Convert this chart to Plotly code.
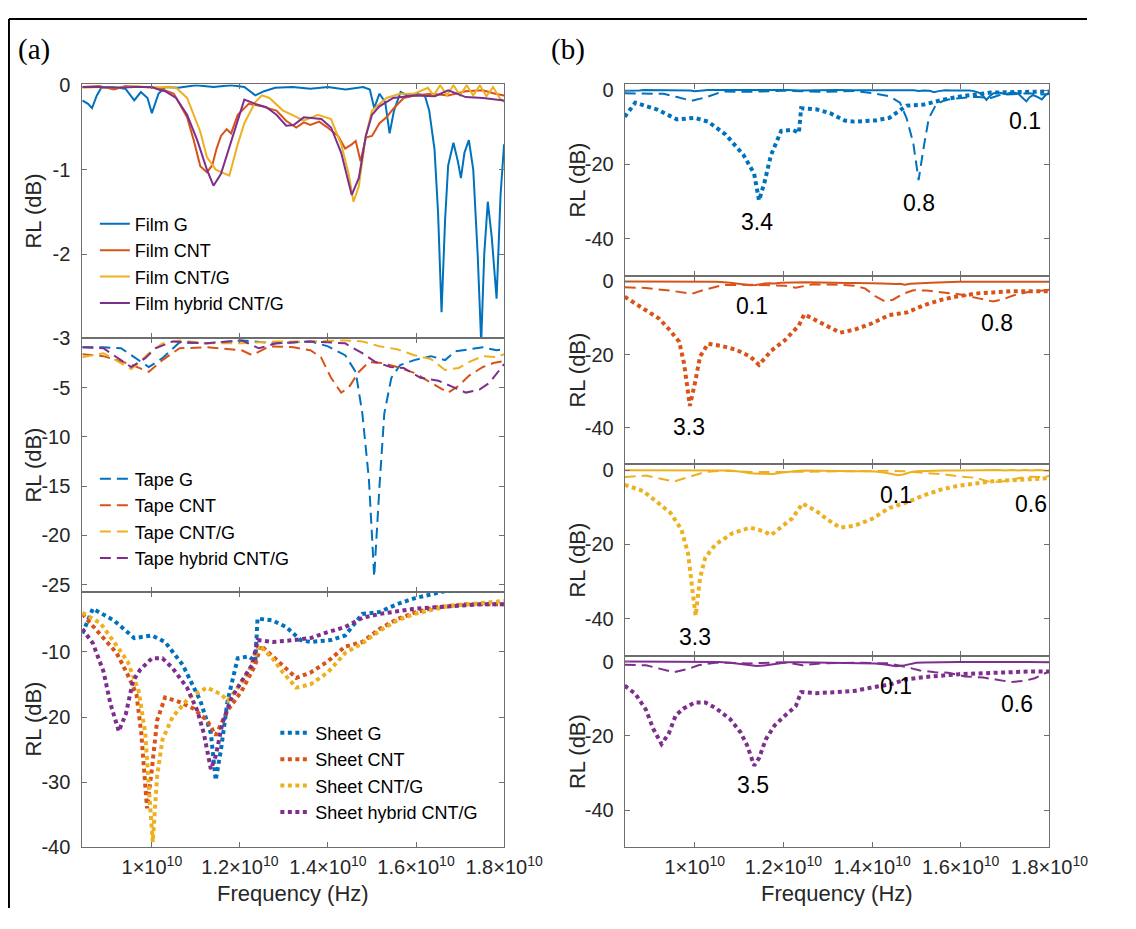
import numpy as np
import plotly.graph_objects as go

# frequency in GHz, return loss in dB
film_g = [(8.42, -0.18), (8.55, -0.22), (8.64, -0.27), (8.75, -0.12), (8.85, -0.03), (9.1, -0.02),
          (9.4, -0.04), (9.6, -0.18), (9.75, -0.08), (9.9, -0.15), (10.0, -0.33), (10.15, -0.1),
          (10.3, -0.02), (10.6, -0.03), (11.0, 0.0), (11.4, -0.02), (11.8, 0.0), (12.1, -0.02),
          (12.35, -0.12), (12.55, -0.07), (12.8, -0.03), (13.2, -0.02), (13.6, -0.04), (14.0, -0.02),
          (14.4, -0.05), (14.8, -0.02), (14.95, -0.05), (15.05, -0.27), (15.17, -0.1), (15.3, -0.2),
          (15.4, -0.57), (15.5, -0.3), (15.65, -0.08), (15.8, -0.12), (16.0, -0.1), (16.2, -0.12),
          (16.3, -0.3), (16.42, -0.76), (16.5, -1.5), (16.58, -2.69), (16.66, -1.6), (16.73, -0.95),
          (16.85, -0.68), (16.95, -0.9), (17.02, -1.1), (17.1, -0.8), (17.2, -0.65), (17.3, -1.0),
          (17.4, -2.0), (17.48, -3.05), (17.55, -2.0), (17.63, -1.38), (17.72, -1.8), (17.83, -2.53),
          (17.92, -1.3), (18.0, -0.7)]
film_cnt = [(8.42, -0.02), (8.8, -0.01), (9.14, -0.05), (9.4, -0.01), (9.8, -0.02), (10.15, -0.03),
            (10.5, -0.1), (10.8, -0.38), (10.95, -0.65), (11.1, -0.96), (11.25, -1.03), (11.37, -0.95),
            (11.47, -0.75), (11.57, -0.6), (11.7, -0.52), (11.8, -0.57), (11.95, -0.35), (12.2, -0.22),
            (12.5, -0.25), (12.83, -0.3), (13.05, -0.42), (13.28, -0.5), (13.45, -0.44), (13.6, -0.47),
            (13.8, -0.43), (13.99, -0.5), (14.23, -0.6), (14.39, -0.75), (14.54, -0.7), (14.63, -0.66),
            (14.74, -0.9), (14.86, -0.62), (15.0, -0.6), (15.17, -0.45), (15.33, -0.38), (15.48, -0.28),
            (15.72, -0.15), (15.96, -0.12), (16.34, -0.1), (16.73, -0.12), (17.13, -0.07), (17.52, -0.06),
            (17.8, -0.1), (18.0, -0.12)]
film_cntg = [(8.42, -0.03), (8.8, -0.02), (9.2, -0.03), (9.6, -0.01), (10.0, -0.03), (10.3, -0.02),
             (10.55, -0.03), (10.8, -0.15), (11.1, -0.55), (11.25, -0.85), (11.45, -1.0), (11.65, -1.05),
             (11.76, -1.07), (11.95, -0.7), (12.1, -0.45), (12.35, -0.2), (12.5, -0.12), (12.67, -0.15),
             (12.98, -0.3), (13.22, -0.36), (13.45, -0.42), (13.77, -0.35), (14.07, -0.4), (14.3, -0.7),
             (14.47, -1.05), (14.58, -1.38), (14.7, -1.2), (14.86, -0.6), (15.0, -0.3), (15.33, -0.15),
             (15.63, -0.1), (15.96, -0.1), (16.27, -0.03), (16.4, -0.12), (16.55, 0.0), (16.7, -0.12),
             (16.85, 0.0), (17.0, -0.12), (17.15, 0.0), (17.3, -0.12), (17.45, 0.0), (17.6, -0.13),
             (17.75, -0.02), (17.9, -0.15), (18.0, -0.2)]
film_hyb = [(8.42, -0.02), (8.8, -0.02), (9.2, -0.03), (9.6, -0.02), (10.0, -0.02), (10.15, -0.05),
            (10.3, -0.07), (10.55, -0.15), (10.8, -0.35), (11.03, -0.65), (11.25, -1.0), (11.4, -1.19),
            (11.57, -1.05), (11.72, -0.8), (11.95, -0.4), (12.1, -0.17), (12.35, -0.22), (12.6, -0.26),
            (12.83, -0.35), (13.05, -0.48), (13.22, -0.47), (13.45, -0.38), (13.85, -0.4), (14.07, -0.5),
            (14.3, -0.8), (14.47, -1.15), (14.54, -1.3), (14.7, -1.1), (14.86, -0.6), (15.0, -0.35),
            (15.17, -0.25), (15.48, -0.15), (15.96, -0.12), (16.43, -0.13), (16.73, -0.06), (17.13, -0.14),
            (17.52, -0.15), (18.0, -0.18)]

tape_g = [(8.42, -0.9), (8.9, -0.9), (9.3, -1.0), (9.6, -1.9), (9.93, -2.9), (10.24, -2.0), (10.63, -0.4),
          (11.25, -0.5), (12.04, -0.2), (12.83, -0.5), (13.6, -0.3), (14.0, -0.8), (14.39, -1.7),
          (14.63, -3.4), (14.78, -7.6), (14.93, -14.3), (15.05, -24.2), (15.17, -15.0), (15.28, -7.6),
          (15.44, -4.0), (15.64, -2.7), (15.96, -2.2), (16.34, -1.8), (16.66, -2.2), (16.9, -1.3),
          (17.52, -0.9), (17.83, -1.2), (18.0, -1.1)]
tape_cnt = [(8.42, -1.6), (8.9, -1.8), (9.5, -2.6), (9.93, -3.4), (10.24, -2.2), (10.63, -1.0),
            (11.25, -0.9), (12.04, -1.2), (12.28, -1.7), (12.67, -0.8), (13.22, -0.9), (13.6, -1.2),
            (13.84, -1.9), (14.07, -4.0), (14.3, -5.5), (14.47, -5.0), (14.7, -3.4), (14.93, -2.4),
            (15.24, -2.5), (15.57, -2.9), (15.96, -3.5), (16.43, -4.7), (16.73, -5.5), (16.97, -4.8),
            (17.2, -3.8), (17.52, -2.9), (17.76, -2.5), (18.0, -2.3)]
tape_cntg = [(8.42, -1.9), (8.9, -1.5), (9.53, -3.1), (9.7, -2.5), (9.93, -1.5), (10.24, -0.5),
             (10.63, -0.2), (11.25, -0.5), (12.04, -0.5), (12.83, -0.3), (13.6, -0.3), (14.39, -0.2),
             (14.78, -0.3), (15.17, -0.8), (15.57, -1.1), (15.96, -1.7), (16.34, -2.1), (16.66, -3.2),
             (16.97, -3.0), (17.2, -2.4), (17.52, -1.8), (17.83, -1.9), (18.0, -1.6)]
tape_hyb = [(8.42, -0.9), (8.9, -1.0), (9.53, -2.9), (9.85, -2.0), (10.08, -1.0), (10.47, -0.3),
            (11.25, -0.5), (12.04, -0.2), (12.43, -1.0), (12.83, -0.5), (13.6, -0.3), (14.39, -0.5),
            (14.78, -1.5), (15.08, -2.4), (15.42, -2.9), (15.72, -3.0), (16.1, -4.0), (16.51, -4.3),
            (16.82, -4.9), (17.13, -5.5), (17.44, -5.2), (17.67, -4.5), (18.0, -2.6)]

sheet_g = [(8.42, -7.2), (8.66, -3.4), (9.14, -5.2), (9.6, -7.9), (10.0, -7.5), (10.3, -8.5), (10.7, -12.0),
           (11.1, -17.5), (11.34, -22.5), (11.45, -29.7), (11.57, -25.0), (11.72, -17.5), (11.95, -11.0),
           (12.2, -10.7), (12.35, -11.5), (12.4, -4.9), (12.74, -5.2), (13.05, -6.2), (13.38, -8.2),
           (13.6, -8.5), (14.07, -8.2), (14.39, -7.5), (14.78, -4.2), (15.17, -3.9), (15.57, -2.7),
           (15.96, -1.8), (16.34, -1.2), (16.66, -0.7), (17.0, -0.6), (17.5, -0.5), (18.0, -0.4)]
sheet_cnt = [(8.42, -4.2), (8.9, -7.8), (9.2, -10.2), (9.45, -13.5), (9.65, -16.5), (9.76, -22.5),
             (9.89, -34.0), (10.0, -28.0), (10.12, -20.5), (10.3, -17.0), (10.63, -17.7), (10.94, -18.7),
             (11.25, -20.5), (11.45, -22.8), (11.72, -19.0), (12.04, -16.0), (12.35, -12.0), (12.47, -9.0),
             (12.74, -10.7), (13.05, -12.7), (13.28, -14.0), (13.6, -13.2), (13.99, -11.5), (14.39, -9.2),
             (14.78, -8.5), (15.17, -6.5), (15.57, -5.0), (15.96, -4.0), (16.43, -3.2), (16.73, -3.0),
             (17.13, -2.7), (17.52, -2.7), (18.0, -2.7)]
sheet_cntg = [(8.42, -4.0), (8.83, -5.6), (9.14, -8.5), (9.45, -11.5), (9.7, -16.0), (9.85, -22.5),
              (9.95, -32.5), (10.02, -39.2), (10.12, -29.0), (10.24, -23.5), (10.47, -20.0), (10.85, -17.0),
              (11.25, -15.5), (11.57, -16.5), (11.72, -17.5), (11.95, -15.5), (12.2, -13.0), (12.43, -9.0),
              (12.74, -11.0), (12.98, -13.2), (13.28, -15.5), (13.6, -15.0), (13.99, -13.2), (14.39, -10.2),
              (14.78, -8.7), (15.17, -6.8), (15.57, -5.2), (15.96, -4.2), (16.73, -3.0), (17.52, -2.5),
              (18.0, -2.2)]
sheet_hyb = [(8.42, -6.5), (8.66, -8.7), (8.9, -13.0), (9.06, -18.0), (9.25, -22.2), (9.41, -19.5),
             (9.57, -14.5), (9.74, -12.7), (10.0, -11.0), (10.24, -11.0), (10.47, -12.5), (10.8, -15.5),
             (11.03, -19.0), (11.18, -22.5), (11.34, -28.0), (11.45, -26.0), (11.6, -21.0), (11.8, -17.2),
             (12.04, -14.5), (12.28, -12.0), (12.4, -8.2), (12.74, -8.5), (13.22, -8.2), (13.6, -7.9),
             (13.99, -7.0), (14.39, -6.2), (14.78, -4.8), (15.17, -4.2), (15.96, -3.4), (16.73, -3.0),
             (17.52, -2.7), (18.0, -2.7)]

materials = ["G", "CNT", "CNT/G", "hybrid CNT/G"]
colors = ["#0072BD", "#D95319", "#EDB120", "#7E2F8E"]
films = [film_g, film_cnt, film_cntg, film_hyb]
tapes = [tape_g, tape_cnt, tape_cntg, tape_hyb]
sheets = [sheet_g, sheet_cnt, sheet_cntg, sheet_hyb]

# thickness labels in panel (b): (GHz, dB, text) per material
labels_b = [
    [(11.41, -35.5, "3.4"), (15.07, -30.3, "0.8"), (17.44, -8.2, "0.1")],
    [(9.88, -39.9, "3.3"), (11.3, -6.7, "0.1"), (16.83, -11.4, "0.8")],
    [(10.0, -45.0, "3.3"), (14.55, -6.8, "0.1"), (17.59, -9.2, "0.6")],
    [(11.31, -33.2, "3.5"), (14.55, -6.6, "0.1"), (17.28, -11.3, "0.6")],
]

# figure sized so page (with the 8px body margin) fits the window without scrolling
W, H = 1118, 911
OFF = 8
FONT = "Liberation Sans, Arial, sans-serif"
SERIF = "Liberation Serif, Times New Roman, serif"
TXT = "#262626"
AX = "#6e6e6e"


def px(x):
    return (x - OFF) / W


def py(y):
    return 1 - (y - OFF) / H


def xy(series):
    f, r = zip(*series)
    return np.array(f) * 1e9, np.array(r)


styles = {
    "film": dict(dash="solid", width=2),
    "tape": dict(dash="11px,6px", width=2),
    "sheet": dict(dash="4px,3.5px", width=4),
}

fig = go.Figure()

# panel (a)
for k, (kind, group, leg) in enumerate([("film", films, "legend"), ("tape", tapes, "legend2"),
                                        ("sheet", sheets, "legend3")]):
    for i, s in enumerate(group):
        x, y = xy(s)
        fig.add_trace(go.Scatter(
            x=x, y=y, mode="lines", xaxis=f"x{k + 1}", yaxis=f"y{k + 1}",
            line=dict(color=colors[i], **styles[kind]),
            name=f"{kind.capitalize()} {materials[i]}", legend=leg,
        ))

# panel (b)
for i in range(4):
    for kind, group in [("film", films), ("tape", tapes), ("sheet", sheets)]:
        x, y = xy(group[i])
        fig.add_trace(go.Scatter(
            x=x, y=y, mode="lines", xaxis=f"x{i + 4}", yaxis=f"y{i + 4}",
            line=dict(color=colors[i], **styles[kind]), showlegend=False,
        ))

xt = [1e10, 1.2e10, 1.4e10, 1.6e10, 1.8e10]
xtt = ["1×10<sup>10</sup>", "1.2×10<sup>10</sup>", "1.4×10<sup>10</sup>",
       "1.6×10<sup>10</sup>", "1.8×10<sup>10</sup>"]

axbase = dict(showline=True, linecolor=AX, linewidth=1, mirror="ticks", ticks="inside",
              ticklen=5, tickcolor=AX, showgrid=False, zeroline=False,
              tickfont=dict(family=FONT, size=20, color=TXT))

left_x = [px(85), px(522)]
right_x = [px(647), px(1087)]
left_rows = [(76, 336), (336, 596), (596, 857)]
right_rows = [(76, 272), (272, 465), (465, 661), (661, 857)]
left_ranges = [[-3, 0.01], [-25.8, 0], [-40, -0.9]]
left_ticks = [[0, -1, -2, -3], [-5, -10, -15, -20, -25], [-10, -20, -30, -40]]

lay = {}
for k in range(3):
    t, b = left_rows[k]
    lay[f"xaxis{k + 1}"] = dict(axbase, domain=left_x, anchor=f"y{k + 1}", range=[8.42e9, 18e9],
                                tickvals=xt, ticktext=xtt, showticklabels=(k == 2),
                                ticklabelstandoff=2)
    lay[f"yaxis{k + 1}"] = dict(axbase, domain=[py(b), py(t)], anchor=f"x{k + 1}",
                                range=left_ranges[k], tickvals=left_ticks[k],
                                ticktext=[str(v) for v in left_ticks[k]], ticklabelstandoff=7)
for i in range(4):
    t, b = right_rows[i]
    lay[f"xaxis{i + 4}"] = dict(axbase, domain=right_x, anchor=f"y{i + 4}", range=[8.42e9, 18e9],
                                tickvals=xt, ticktext=xtt, showticklabels=(i == 3),
                                ticklabelstandoff=2)
    lay[f"yaxis{i + 4}"] = dict(axbase, domain=[py(b), py(t)], anchor=f"x{i + 4}",
                                range=[-50, 1.5], tickvals=[0, -20, -40],
                                ticktext=["0", "-20", "-40"], ticklabelstandoff=6)

legbase = dict(bgcolor="rgba(0,0,0,0)", font=dict(family=FONT, size=18, color="#000000"),
               xanchor="left", yanchor="top", tracegroupgap=0)
fig.update_layout(
    **lay,
    width=W, height=H, margin=dict(l=0, r=0, t=0, b=0),
    paper_bgcolor="white", plot_bgcolor="white",
    legend=dict(legbase, x=px(98), y=py(200)),
    legend2=dict(legbase, x=px(98), y=py(461)),
    legend3=dict(legbase, x=px(285), y=py(721)),
)

ann = []
for cy in [206, 466, 726]:
    ann.append(dict(x=px(34), y=py(cy), text="RL (dB)", textangle=-90))
for t, b in right_rows:
    ann.append(dict(x=px(598), y=py((t + b) / 2), text="RL (dB)", textangle=-90))
ann.append(dict(x=px(303), y=py(904), text="Frequency (Hz)"))
ann.append(dict(x=px(867), y=py(904), text="Frequency (Hz)"))
for a in ann:
    a.update(xref="paper", yref="paper", showarrow=False, xanchor="center", yanchor="middle",
             font=dict(family=FONT, size=22, color=TXT))
for i, labs in enumerate(labels_b):
    for f, v, s in labs:
        ann.append(dict(x=f * 1e9, y=v, xref=f"x{i + 4}", yref=f"y{i + 4}", text=s, showarrow=False,
                        xanchor="center", yanchor="middle",
                        font=dict(family=FONT, size=23, color="#000000")))
for lx, s in [(35, "(a)"), (588, "(b)")]:
    ann.append(dict(x=px(lx), y=py(40), xref="paper", yref="paper", text=s, showarrow=False,
                    xanchor="center", yanchor="middle",
                    font=dict(family=SERIF, size=29, color="#000000")))
fig.update_layout(annotations=ann)

# outer frame of the original figure (only left and top edges fall inside the picture)
fig.add_shape(type="line", xref="paper", yref="paper", x0=px(9), x1=px(9), y0=0, y1=py(9),
              line=dict(color="black", width=2))
fig.add_shape(type="line", xref="paper", yref="paper", x0=px(9), x1=1, y0=py(9), y1=py(9),
              line=dict(color="black", width=2))

fig.write_html("out.html")
